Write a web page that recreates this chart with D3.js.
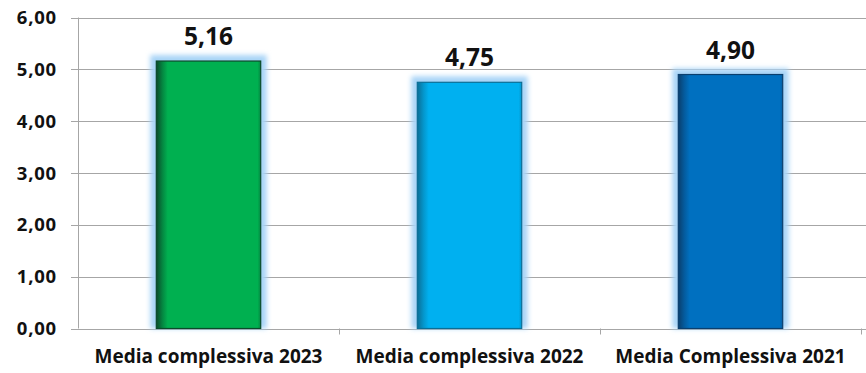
<!DOCTYPE html>
<html>
<head>
<meta charset="utf-8">
<script src="https://cdn.jsdelivr.net/npm/d3@7"></script>
<style>
  html, body { margin: 0; padding: 0; background: #ffffff; }
  svg { display: block; }
</style>
</head>
<body>
<svg id="chart" width="866" height="373"></svg>
<script>
// Data
const categories = ["Media complessiva 2023", "Media complessiva 2022", "Media Complessiva 2021"];
const values = [5.16, 4.75, 4.90];
const valueLabels = ["5,16", "4,75", "4,90"];
const barColors = ["#00B050", "#00B0F0", "#0070C0"];
const edgeColors = ["#0B4A2A", "#0A6E96", "#0A3F6E"];
const yTicks = [0, 1, 2, 3, 4, 5, 6];

const W = 866, H = 373;
const margin = { left: 78, right: 5, top: 17.5, bottom: 44.5 };
const fontFamily = "'Open Sans', Lato, 'DejaVu Sans', sans-serif";

const svg = d3.select("#chart");
const defs = svg.append("defs");

// Soft glow behind bars
const glow = defs.append("filter").attr("id", "glow")
  .attr("x", "-30%").attr("y", "-30%").attr("width", "160%").attr("height", "160%");
glow.append("feGaussianBlur").attr("stdDeviation", 2.8);

// Horizontal shading: darker left edge
barColors.forEach((c, i) => {
  const g = defs.append("linearGradient").attr("id", "grad" + i)
    .attr("x1", "0%").attr("x2", "100%").attr("y1", "0%").attr("y2", "0%");
  g.append("stop").attr("offset", "0%").attr("stop-color", edgeColors[i]);
  g.append("stop").attr("offset", "6%").attr("stop-color", d3.interpolateRgb(edgeColors[i], c)(0.6));
  g.append("stop").attr("offset", "11%").attr("stop-color", c);
  g.append("stop").attr("offset", "97%").attr("stop-color", c);
  g.append("stop").attr("offset", "100%").attr("stop-color", d3.interpolateRgb(c, edgeColors[i])(0.4));
});

const x = d3.scaleBand().domain(categories)
  .range([margin.left, 861]).paddingInner(0.6).paddingOuter(0.3);
const y = d3.scaleLinear().domain([0, 6]).range([H - margin.bottom, margin.top]);

// Gridlines
svg.append("g").selectAll("line").data(yTicks).join("line")
  .attr("x1", margin.left - 7).attr("x2", W)
  .attr("y1", d => Math.round(y(d)) + 0.5).attr("y2", d => Math.round(y(d)) + 0.5)
  .attr("stroke", "#a6a6a6").attr("stroke-width", 1);

// Y axis line
svg.append("line")
  .attr("x1", margin.left + 0.5).attr("x2", margin.left + 0.5)
  .attr("y1", y(6)).attr("y2", y(0))
  .attr("stroke", "#a6a6a6");

// Category tick marks on the baseline
const bandEdges = categories.map(c => x(c) + x.bandwidth() + x.step() * x.paddingInner() / 2);
svg.append("g").selectAll("line").data(bandEdges).join("line")
  .attr("x1", d => Math.round(d) + 0.5).attr("x2", d => Math.round(d) + 0.5)
  .attr("y1", y(0)).attr("y2", y(0) + 6)
  .attr("stroke", "#a6a6a6");

// Y tick labels
svg.append("g").selectAll("text").data(yTicks).join("text")
  .attr("x", 57).attr("y", d => y(d))
  .attr("dy", "0.36em")
  .attr("text-anchor", "end")
  .attr("font-family", fontFamily).attr("font-weight", 700).attr("font-size", 18.5)
  .attr("letter-spacing", 0.8)
  .attr("fill", "#111")
  .text(d => d3.format(".2f")(d).replace(".", ","));

// Glow rects
svg.append("g").selectAll("rect").data(values).join("rect")
  .attr("x", (d, i) => x(categories[i]) - 6)
  .attr("y", d => y(d) - 6)
  .attr("width", x.bandwidth() + 12)
  .attr("height", d => y(0) - y(d) + 6)
  .attr("fill", "#a8d4f7")
  .attr("filter", "url(#glow)");

// Bars
svg.append("g").selectAll("rect").data(values).join("rect")
  .attr("x", (d, i) => x(categories[i]))
  .attr("y", d => y(d))
  .attr("width", x.bandwidth())
  .attr("height", d => y(0) - y(d))
  .attr("fill", (d, i) => `url(#grad${i})`)
  .attr("stroke", (d, i) => edgeColors[i])
  .attr("stroke-width", 1.2);

// Value labels
svg.append("g").selectAll("text").data(values).join("text")
  .attr("x", (d, i) => x(categories[i]) + x.bandwidth() / 2)
  .attr("y", d => y(d) - 16)
  .attr("text-anchor", "middle")
  .attr("font-family", fontFamily).attr("font-weight", 700).attr("font-size", 24.5)
  .attr("fill", "#111")
  .text((d, i) => valueLabels[i]);

// Category labels
svg.append("g").selectAll("text").data(categories).join("text")
  .attr("x", d => x(d) + x.bandwidth() / 2)
  .attr("y", 363)
  .attr("text-anchor", "middle")
  .attr("font-family", fontFamily).attr("font-weight", 700).attr("font-size", 19)
  .attr("fill", "#111")
  .text(d => d);
</script>
</body>
</html>
